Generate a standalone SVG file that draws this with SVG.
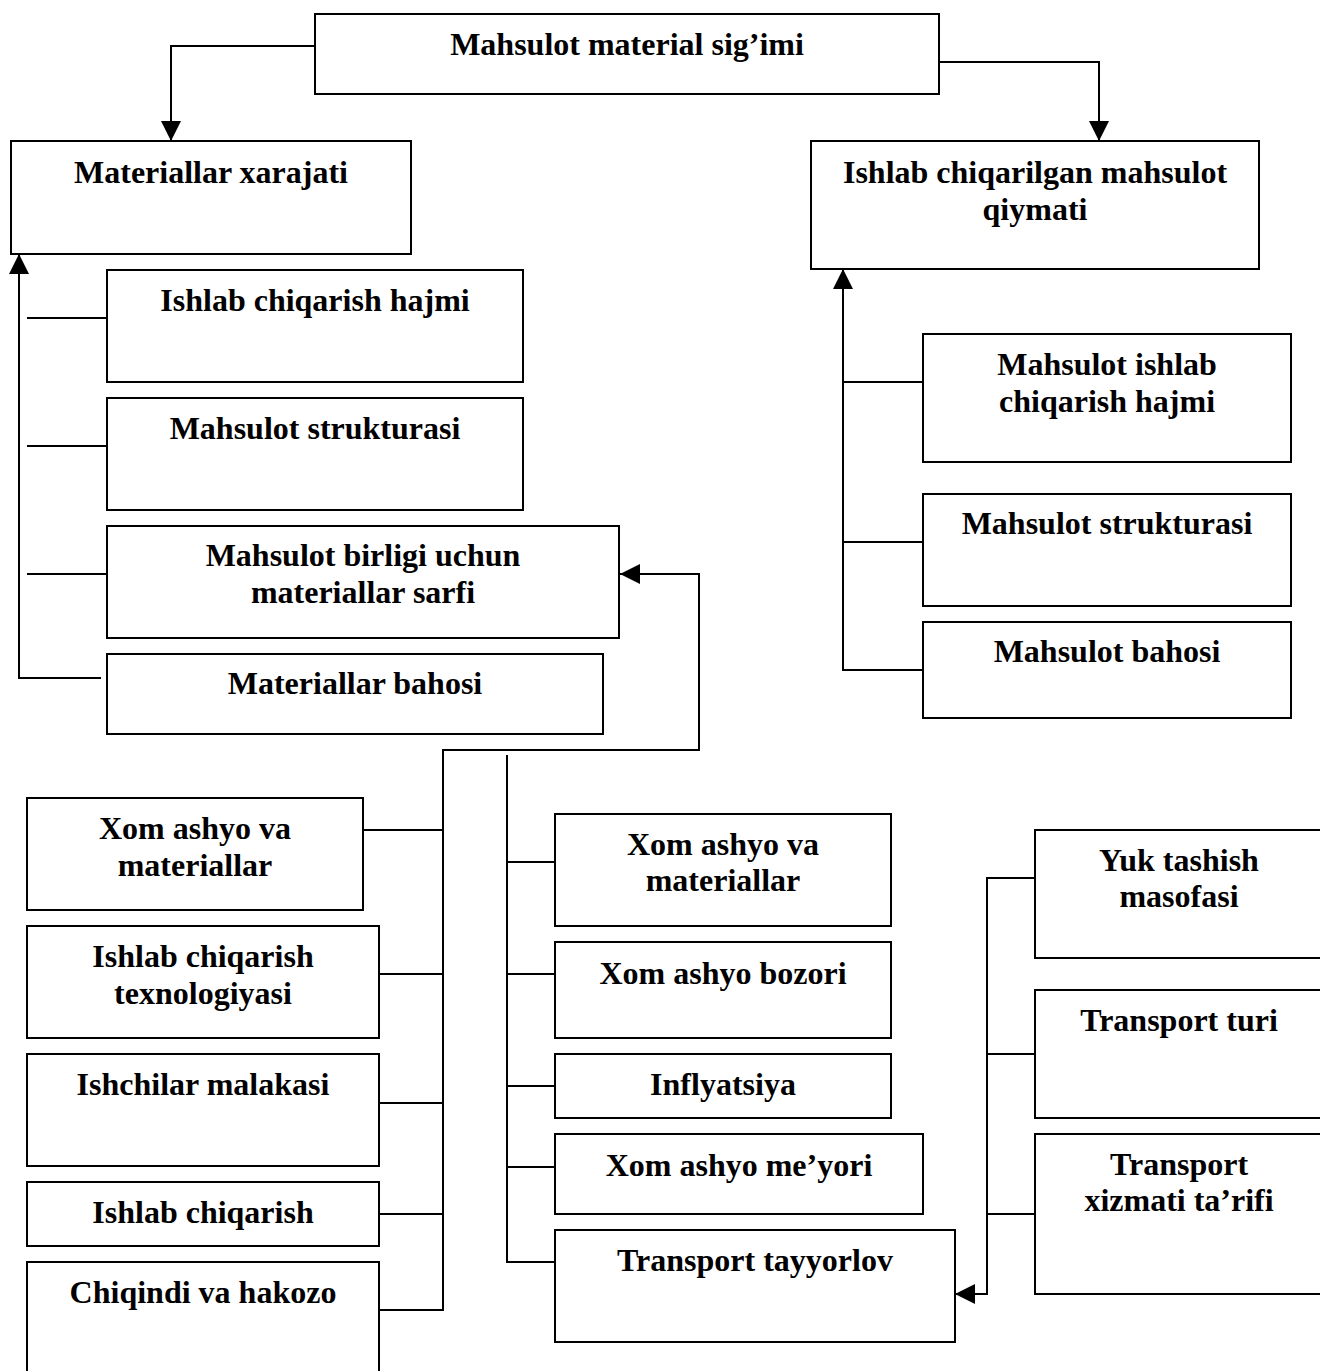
<svg xmlns="http://www.w3.org/2000/svg" width="1320" height="1371" viewBox="0 0 1320 1371">
  <style>
    .box { fill: #ffffff; stroke: #000000; stroke-width: 2; }
    .wire { fill: none; stroke: #000000; stroke-width: 2; }
    .arrow { marker-end: url(#head); }
    text { font-family: "Liberation Serif", "Times New Roman", serif; font-weight: bold; font-size: 32px; text-anchor: middle; fill: #000000; }
  </style>
  <defs>
    <marker id="head" markerUnits="userSpaceOnUse" markerWidth="20" markerHeight="20" refX="20" refY="10" orient="auto">
      <path d="M0,0 L20,10 L0,20 Z" fill="#000000"/>
    </marker>
  </defs>
  <rect width="1320" height="1371" fill="#ffffff"/>

  <!-- connectors -->
  <g id="connectors">
    <path class="wire arrow" d="M315,46 H171 V141"/>
    <path class="wire arrow" d="M939,62 H1099 V141"/>

    <path class="wire arrow" d="M101,678 H19 V254"/>
    <path class="wire" d="M27,318 H107 M27,446 H107 M27,574 H107"/>

    <path class="wire arrow" d="M923,670 H843 V269"/>
    <path class="wire" d="M843,382 H923 M843,542 H923"/>

    <path class="wire" d="M363,830 H443 M379,974 H443 M379,1103 H443 M379,1214 H443"/>
    <path class="wire arrow" d="M379,1310 H443 V750 H699 V574 H620"/>

    <path class="wire" d="M507,755 V1262 H555 M507,862 H555 M507,974 H555 M507,1086 H555 M507,1167 H555"/>

    <path class="wire arrow" d="M1035,878 H987 V1294 H955"/>
    <path class="wire" d="M987,1054 H1035 M987,1214 H1035"/>
  </g>

  <!-- top level -->
  <g id="n-mahsulot-material-sigimi">
    <rect class="box" x="315" y="14" width="624" height="80"/>
    <text x="627" y="55">Mahsulot material sig’imi</text>
  </g>
  <g id="n-materiallar-xarajati">
    <rect class="box" x="11" y="141" width="400" height="113"/>
    <text x="211" y="183">Materiallar xarajati</text>
  </g>
  <g id="n-mahsulot-qiymati">
    <rect class="box" x="811" y="141" width="448" height="128"/>
    <text x="1035" y="183">Ishlab chiqarilgan mahsulot</text>
    <text x="1035" y="220">qiymati</text>
  </g>

  <!-- factors of material cost -->
  <g id="n-ishlab-chiqarish-hajmi">
    <rect class="box" x="107" y="270" width="416" height="112"/>
    <text x="315" y="311">Ishlab chiqarish hajmi</text>
  </g>
  <g id="n-mahsulot-strukturasi-l">
    <rect class="box" x="107" y="398" width="416" height="112"/>
    <text x="315" y="439">Mahsulot strukturasi</text>
  </g>
  <g id="n-materiallar-sarfi">
    <rect class="box" x="107" y="526" width="512" height="112"/>
    <text x="363" y="566">Mahsulot birligi uchun</text>
    <text x="363" y="603">materiallar sarfi</text>
  </g>
  <g id="n-materiallar-bahosi">
    <rect class="box" x="107" y="654" width="496" height="80"/>
    <text x="355" y="694">Materiallar bahosi</text>
  </g>

  <!-- factors of product value -->
  <g id="n-mahsulot-hajmi">
    <rect class="box" x="923" y="334" width="368" height="128"/>
    <text x="1107" y="375">Mahsulot ishlab</text>
    <text x="1107" y="412">chiqarish hajmi</text>
  </g>
  <g id="n-mahsulot-strukturasi-r">
    <rect class="box" x="923" y="494" width="368" height="112"/>
    <text x="1107" y="534">Mahsulot strukturasi</text>
  </g>
  <g id="n-mahsulot-bahosi">
    <rect class="box" x="923" y="622" width="368" height="96"/>
    <text x="1107" y="662">Mahsulot bahosi</text>
  </g>

  <!-- factors of consumption per unit -->
  <g id="n-xom-ashyo-l">
    <rect class="box" x="27" y="798" width="336" height="112"/>
    <text x="195" y="839">Xom ashyo va</text>
    <text x="195" y="876">materiallar</text>
  </g>
  <g id="n-texnologiya">
    <rect class="box" x="27" y="926" width="352" height="112"/>
    <text x="203" y="967">Ishlab chiqarish</text>
    <text x="203" y="1004">texnologiyasi</text>
  </g>
  <g id="n-ishchilar-malakasi">
    <rect class="box" x="27" y="1054" width="352" height="112"/>
    <text x="203" y="1095">Ishchilar malakasi</text>
  </g>
  <g id="n-ishlab-chiqarish">
    <rect class="box" x="27" y="1182" width="352" height="64"/>
    <text x="203" y="1223">Ishlab chiqarish</text>
  </g>
  <g id="n-chiqindi">
    <rect class="box" x="27" y="1262" width="352" height="130"/>
    <text x="203" y="1303">Chiqindi va hakozo</text>
  </g>

  <!-- factors of material price -->
  <g id="n-xom-ashyo-m">
    <rect class="box" x="555" y="814" width="336" height="112"/>
    <text x="723" y="855">Xom ashyo va</text>
    <text x="723" y="891">materiallar</text>
  </g>
  <g id="n-xom-ashyo-bozori">
    <rect class="box" x="555" y="942" width="336" height="96"/>
    <text x="723" y="984">Xom ashyo bozori</text>
  </g>
  <g id="n-inflyatsiya">
    <rect class="box" x="555" y="1054" width="336" height="64"/>
    <text x="723" y="1095">Inflyatsiya</text>
  </g>
  <g id="n-xom-ashyo-meyori">
    <rect class="box" x="555" y="1134" width="368" height="80"/>
    <text x="739" y="1176">Xom ashyo me’yori</text>
  </g>
  <g id="n-transport-tayyorlov">
    <rect class="box" x="555" y="1230" width="400" height="112"/>
    <text x="755" y="1271">Transport tayyorlov</text>
  </g>

  <!-- transport factors -->
  <g id="n-yuk-tashish">
    <rect class="box" x="1035" y="830" width="300" height="128"/>
    <text x="1179" y="871">Yuk tashish</text>
    <text x="1179" y="907">masofasi</text>
  </g>
  <g id="n-transport-turi">
    <rect class="box" x="1035" y="990" width="300" height="128"/>
    <text x="1179" y="1031">Transport turi</text>
  </g>
  <g id="n-transport-tarifi">
    <rect class="box" x="1035" y="1134" width="300" height="160"/>
    <text x="1179" y="1175">Transport</text>
    <text x="1179" y="1211">xizmati ta’rifi</text>
  </g>
</svg>
